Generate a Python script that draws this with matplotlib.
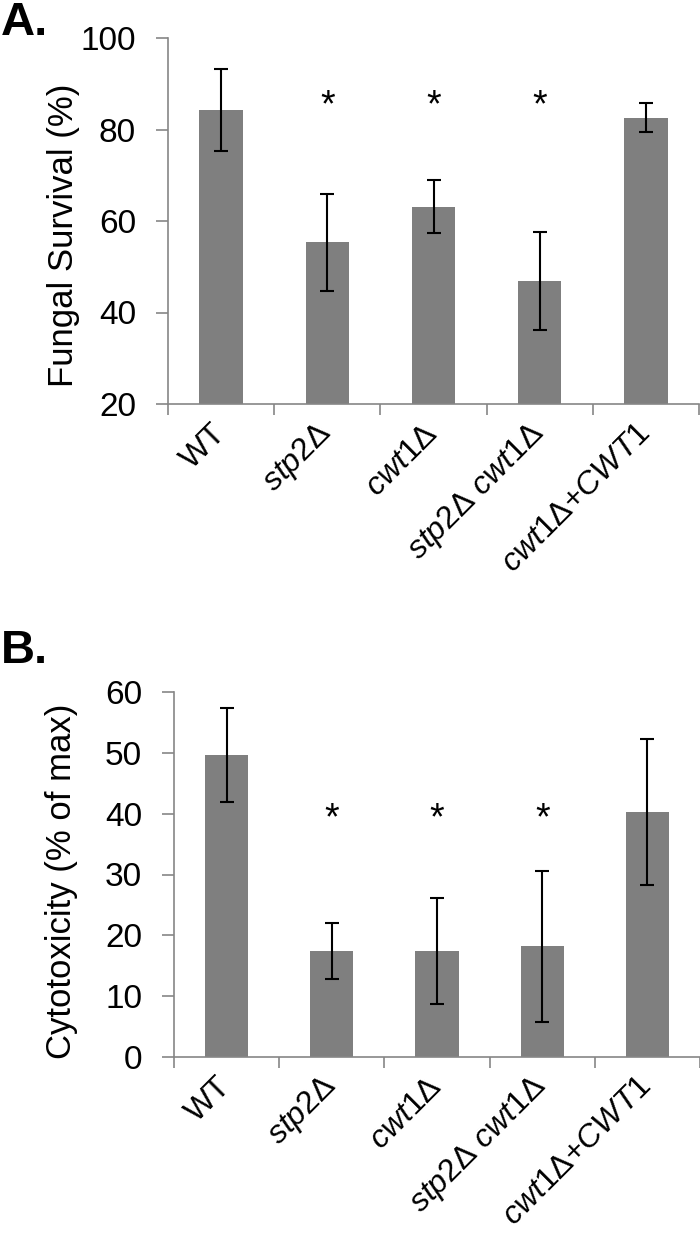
import numpy as np
import matplotlib
matplotlib.use('Agg')
import matplotlib.pyplot as plt
import matplotlib.transforms as mtransforms
from matplotlib.ticker import FixedLocator

plt.rcParams['font.family'] = ['Liberation Sans', 'DejaVu Sans']
plt.rcParams['mathtext.fontset'] = 'custom'
plt.rcParams['mathtext.rm'] = 'Liberation Sans'
plt.rcParams['mathtext.it'] = 'Liberation Sans:italic'
plt.rcParams['mathtext.bf'] = 'Liberation Sans:bold'

D = r'\mathrm{\Delta}'
strains = ['WT', rf'$\mathit{{stp2}}{D}$', rf'$\mathit{{cwt1}}{D}$',
           rf'$\mathit{{stp2}}{D}\ \mathit{{cwt1}}{D}$', rf'$\mathit{{cwt1}}{D}{{+}}\mathit{{CWT1}}$']
signif = [False, True, True, True, False]

surv = [84.2, 55.4, 63.1, 46.9, 82.6]
surv_err = [9.0, 10.6, 5.8, 10.8, 3.2]
surv_ticks = [20, 40, 60, 80, 100]

cyto = [49.7, 17.4, 17.4, 18.2, 40.3]
cyto_err = [7.7, 4.6, 8.7, 12.4, 12.0]
cyto_ticks = [0, 10, 20, 30, 40, 50, 60]

BAR = '#7f7f7f'
AXC = '#868686'
W, H = 700, 1235


def panel(rect, vals, errs, ticks, ylabel, star_y, label_xy, letter, letter_xy):
    ax = fig.add_axes(rect)
    x = np.arange(len(vals))
    ax.bar(x, [v - ticks[0] for v in vals], bottom=ticks[0], width=0.41, color=BAR, zorder=2)
    ax.errorbar(x, vals, yerr=errs, fmt='none', ecolor='black', elinewidth=1.5,
                capsize=5, capthick=1.5, zorder=3)
    for xi, s in zip(x, signif):
        if s:
            ax.text(xi, star_y, '*', ha='center', va='center', fontsize=27)
    ax.set_xlim(-0.5, len(vals) - 0.5)
    ax.set_ylim(ticks[0], ticks[-1])
    ax.set_yticks(ticks)
    ax.set_xticks(x)
    ax.set_xticklabels(strains, rotation=45, ha='right', va='center', rotation_mode='anchor',
                       fontsize=23)
    # nudge the slanted names to the right like the original
    shift = mtransforms.ScaledTranslation(10 / 100, 0, fig.dpi_scale_trans)
    for lab in ax.get_xticklabels():
        lab.set_transform(lab.get_transform() + shift)
    ax.xaxis.set_minor_locator(FixedLocator(np.arange(-0.5, len(vals), 1.0)))
    ax.tick_params(axis='x', which='major', length=0, pad=18)
    ax.tick_params(axis='x', which='minor', length=8, width=1.2, color=AXC, direction='out')
    ax.tick_params(axis='y', length=9, width=1.2, color=AXC, direction='out', pad=14, labelsize=24)
    for s in ('top', 'right'):
        ax.spines[s].set_visible(False)
    for s in ('left', 'bottom'):
        ax.spines[s].set_color(AXC)
        ax.spines[s].set_linewidth(1.2)
    ax.set_ylabel(ylabel, fontsize=25)
    ax.yaxis.set_label_coords(*label_xy)
    fig.text(letter_xy[0] / W, 1 - letter_xy[1] / H, letter, fontsize=34, fontweight='bold',
             ha='left', va='baseline')
    return ax


fig = plt.figure(figsize=(7, 12.35), dpi=100)
panel([168 / W, 1 - 404 / H, 531 / W, 366 / H], surv, surv_err, surv_ticks,
      'Fungal Survival (%)', 85.1, (-0.166, 0.46), 'A.', (1, 35))
panel([174 / W, 1 - 1057 / H, 526 / W, 365 / H], cyto, cyto_err, cyto_ticks,
      'Cytotoxicity (% of max)', 39.0, (-0.183, 0.48), 'B.', (1, 663))
fig.savefig('out.png', dpi=100)
